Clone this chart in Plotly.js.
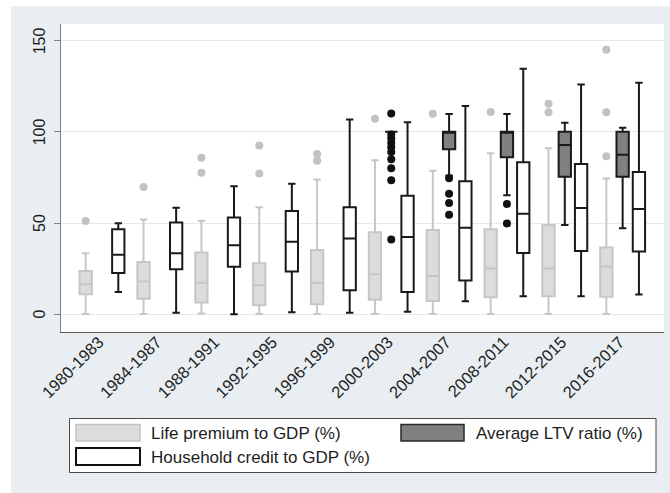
<!DOCTYPE html>
<html>
<head>
<meta charset="utf-8">
<script src="https://cdn.plot.ly/plotly-3.0.1.min.js"></script>
<style>
html,body{margin:0;padding:0;background:#ffffff;width:670px;height:493px;overflow:hidden}
#chart{position:absolute;left:11px;top:6px;width:659px;height:487px}
.ylab{position:absolute;font-family:"Liberation Sans",Arial,sans-serif;font-size:16px;line-height:16px;color:#1e1e1e;
      white-space:nowrap;transform:translate(-50%,-50%) rotate(-90deg);}
</style>
</head>
<body>
<div id="chart"></div>
<div id="ylabels"></div>
<script>
// ---- categories ----
const periods = ['1980-1983','1984-1987','1988-1991','1992-1995','1996-1999',
                 '2000-2003','2004-2007','2008-2011','2012-2015','2016-2017'];
const ltvPeriods = ['2000-2003','2004-2007','2008-2011','2012-2015','2016-2017'];
const seriesNames = ['Life premium to GDP (%)','Average LTV ratio (%)','Household credit to GDP (%)'];
const yTicks = [0, 50, 100, 150];

// ---- Life premium to GDP (%) ----
const lifeLow  = [0.2, 0.2, 0.5, 0.2, 0.2, 0.2, 0.2, 0.2, 0.2, 0.2];
const lifeQ1   = [11.0, 8.5, 6.5, 5.0, 5.5, 8.0, 7.3, 9.4, 9.9, 9.7];
const lifeMed  = [16.5, 18.0, 17.3, 15.9, 17.2, 21.9, 21.0, 25.1, 25.1, 26.2];
const lifeQ3   = [23.8, 28.7, 33.9, 28.0, 35.3, 45.0, 46.2, 46.6, 49.0, 36.6];
const lifeHigh = [33.5, 52.0, 51.3, 58.7, 73.8, 84.4, 78.6, 88.2, 91.0, 74.4];
const lifeOut  = [[51.2],[69.8],[85.8,77.6],[92.5,77.1],[87.9,84.1],[107.2],[109.9],[110.9],[115.3,110.7],[145.0,110.7,86.6]];

// ---- Average LTV ratio (%) ----
const ltvLow  = [100, 76.0, 65.2, 49.0, 47.2];
const ltvQ1   = [100, 90.4, 86.1, 75.4, 75.4];
const ltvMed  = [100, 100, 100, 92.8, 87.4];
const ltvQ3   = [100, 100, 100, 100, 100];
const ltvHigh = [100, 109.8, 109.8, 104.9, 102.2];
const ltvOut  = [[110, 98.5, 96.5, 94, 91.5, 89, 85, 80, 73.5, 41], [74.5, 66, 61, 54.5], [60.5, 49.8], [], []];

// ---- Household credit to GDP (%) ----
const hhLow  = [12.3, 0.8, 0.0, 1.1, 0.8, 1.4, 7.2, 9.9, 9.9, 10.8];
const hhQ1   = [22.7, 24.7, 26.1, 23.4, 13.2, 12.2, 18.5, 33.6, 34.7, 34.4];
const hhMed  = [32.7, 33.5, 37.8, 39.7, 41.5, 42.4, 47.5, 55.1, 58.3, 57.7];
const hhQ3   = [46.6, 50.3, 53.0, 56.6, 58.7, 65.0, 72.9, 83.3, 82.4, 78.0];
const hhHigh = [49.9, 58.4, 70.2, 71.6, 106.7, 105.3, 114.2, 134.5, 125.9, 126.9];

function boxTrace(name, x, lf, q1, med, q3, uf, pts, fill, lineColor, lw, mColor) {
  return {
    type: 'box', name: name, x: x,
    lowerfence: lf, q1: q1, median: med, q3: q3, upperfence: uf,
    y: pts || undefined,
    boxpoints: pts ? 'outliers' : false,
    jitter: 0, pointpos: 0,
    fillcolor: fill,
    line: {color: lineColor, width: lw},
    whiskerwidth: 0.6,
    marker: {color: mColor, size: 8, line: {width: 0}},
    showlegend: false, hoverinfo: 'skip'
  };
}

const traces = [
  boxTrace(seriesNames[0], periods, lifeLow, lifeQ1, lifeMed, lifeQ3, lifeHigh, lifeOut, '#dcdcdc', '#c6c6c6', 2, '#c2c2c2'),
  boxTrace(seriesNames[1], ltvPeriods, ltvLow, ltvQ1, ltvMed, ltvQ3, ltvHigh, ltvOut, '#808080', '#1a1a1a', 2, '#111111'),
  boxTrace(seriesNames[2], periods, hhLow, hhQ1, hhMed, hhQ3, hhHigh, null, '#ffffff', '#1a1a1a', 2, '#111111')
];

// legend drawn as paper-space shapes (reference pixel coords -> paper)
const PL = 61, PR = 664, PT = 24, PB = 332;
const px = v => (v - PL) / (PR - PL);
const py = v => (PB - v) / (PB - PT);
function rect(x0, y0, x1, y1, fill, line, w) {
  return {type: 'rect', xref: 'paper', yref: 'paper', layer: 'above',
          x0: px(x0), x1: px(x1), y0: py(y1), y1: py(y0),
          fillcolor: fill, line: {color: line, width: w}};
}
function label(x, y, t) {
  return {xref: 'paper', yref: 'paper', x: px(x), y: py(y), text: t, showarrow: false,
          xanchor: 'left', yanchor: 'middle', font: {size: 17, color: '#1e1e1e'}};
}
const shapes = [
  rect(69.5, 418.5, 656, 472.5, '#ffffff', '#4a4a4a', 1),
  rect(76, 424.5, 140, 441, '#dcdcdc', '#c4c4c4', 1.5),
  rect(76, 448, 140, 465, '#ffffff', '#111111', 2),
  rect(401, 424.5, 464, 441, '#808080', '#2a2a2a', 1.5)
];
const annotations = [
  label(149, 433, seriesNames[0]),
  label(149, 457, seriesNames[2]),
  label(473.5, 433, seriesNames[1])
];

const layout = {
  width: 659, height: 487,
  margin: {l: 50, r: 6, t: 18, b: 161, pad: 0},
  paper_bgcolor: '#e8eef1', plot_bgcolor: '#ffffff',
  boxmode: 'group', boxgap: 0.155, boxgroupgap: 0.245,
  showlegend: false,
  font: {family: '"Liberation Sans", Arial, sans-serif', color: '#1e1e1e'},
  xaxis: {
    type: 'category', categoryorder: 'array', categoryarray: periods,
    range: [-0.7087, 9.715], tickangle: -45, tickfont: {size: 16.5},
    ticklabelshift: -3, ticklabelstandoff: -7,
    ticks: '', showline: true, linecolor: '#5a5a5a', linewidth: 1,
    showgrid: false, zeroline: false, fixedrange: true
  },
  yaxis: {
    range: [-9.68, 159.06], tickvals: yTicks, showticklabels: false,
    ticks: 'outside', ticklen: 6, tickwidth: 1, tickcolor: '#808080',
    showline: true, linecolor: '#808080', linewidth: 1.2,
    showgrid: true, gridcolor: '#e3e9ed', gridwidth: 1, zeroline: false, fixedrange: true
  },
  shapes: shapes,
  annotations: annotations
};

const gd = document.getElementById('chart');
Plotly.newPlot(gd, traces, layout, {displayModeBar: false}).then(function () {
  // vertical y tick labels placed with the y axis' own scale
  const ya = gd._fullLayout.yaxis;
  const host = document.getElementById('ylabels');
  const chartTop = 6, labelCenterX = 40;
  yTicks.forEach(function (v) {
    const d = document.createElement('div');
    d.className = 'ylab';
    d.textContent = String(v);
    d.style.left = labelCenterX + 'px';
    d.style.top = (chartTop + ya._offset + ya.l2p(v)) + 'px';
    host.appendChild(d);
  });
});
</script>
</body>
</html>
